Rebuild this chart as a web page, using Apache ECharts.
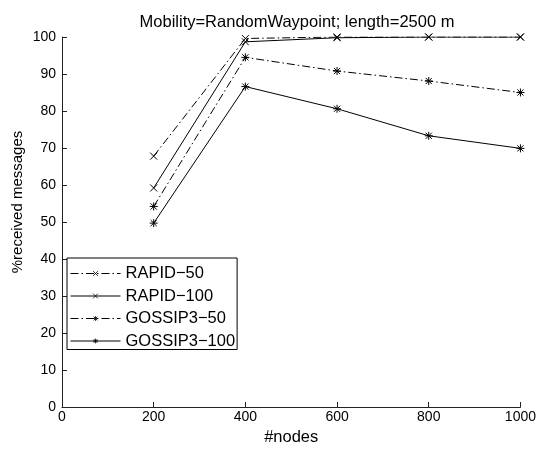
<!DOCTYPE html>
<html><head><meta charset="utf-8">
<script src="https://cdn.jsdelivr.net/npm/echarts@6/dist/echarts.min.js"></script>
<style>html,body{margin:0;padding:0;background:#fff}#c{width:539px;height:453px}</style>
</head><body><div id="c"></div>
<script>
const nodes = [200, 400, 600, 800, 1000];
const rapid50 = [67.8, 99.6, 100, 100, 100];
const rapid100 = [59.2, 98.7, 99.8, 100, 100];
const gossip50 = [54.2, 94.5, 90.8, 88.1, 85.0];
const gossip100 = [49.7, 86.6, 80.6, 73.3, 69.9];
const seriesNames = ['RAPID\u221250', 'RAPID\u2212100', 'GOSSIP3\u221250', 'GOSSIP3\u2212100'];
const xTicks = [0, 200, 400, 600, 800, 1000];
const yTicks = [0, 10, 20, 30, 40, 50, 60, 70, 80, 90, 100];

const X_SYM = 'path://M0,0L10,10M10,0L0,10';
const STAR_SYM = 'path://M0,0L10,10M10,0L0,10M5,-1.5L5,11.5M-1.5,5L11.5,5';
const FONT = 'Liberation Sans, Arial, sans-serif';
const dashDot = [8, 3, 1.5, 3];

function mk(name, vals, sym, dash) {
  return {
    name: name, type: 'line', data: nodes.map((n, i) => [n, vals[i]]),
    symbol: sym, symbolSize: sym === X_SYM ? 7 : 8, showAllSymbol: true,
    lineStyle: { color: '#000', width: 1, type: dash ? dashDot : 'solid' },
    itemStyle: { color: 'transparent', borderColor: '#000', borderWidth: 1 },
    emphasis: { disabled: true }, animation: false
  };
}

const chart = echarts.init(document.getElementById('c'), null, { renderer: 'canvas' });
chart.setOption({
  animation: false,
  title: { text: 'Mobility=RandomWaypoint; length=2500 m', left: 292, top: 9, textAlign: 'center',
    textStyle: { fontFamily: FONT, fontSize: 16.5, fontWeight: 'normal', color: '#000' } },
  grid: { left: 62, right: 17, top: 37, bottom: 46 },
  legend: {
    orient: 'vertical', left: 67, top: 258, itemGap: 5.5, itemWidth: 50, itemHeight: 6,
    data: seriesNames, borderColor: '#000', borderWidth: 1, backgroundColor: '#fff',
    padding: [7, 2, 0, 3], selectedMode: false,
    lineStyle: { width: 1 },
    itemStyle: { borderWidth: 0.8 },
    textStyle: { fontFamily: FONT, fontSize: 16.5, color: '#000', lineHeight: 16.5 }
  },
  xAxis: {
    type: 'value', min: xTicks[0], max: xTicks[xTicks.length - 1], interval: xTicks[1] - xTicks[0],
    name: '#nodes', nameLocation: 'middle', nameGap: 21,
    nameTextStyle: { fontFamily: FONT, fontSize: 16.5, color: '#000' },
    axisLine: { lineStyle: { color: '#222', width: 1 } },
    axisTick: { inside: true, length: 5, lineStyle: { color: '#222' } },
    axisLabel: { fontFamily: FONT, fontSize: 14, color: '#000', margin: 3, formatter: v => String(v) },
    splitLine: { show: false }
  },
  yAxis: {
    type: 'value', min: yTicks[0], max: yTicks[yTicks.length - 1], interval: yTicks[1] - yTicks[0],
    axisLine: { show: true, lineStyle: { color: '#222', width: 1 } },
    axisTick: { show: true, inside: true, length: 5, lineStyle: { color: '#222' } },
    axisLabel: { fontFamily: FONT, fontSize: 14, color: '#000', margin: 6, formatter: v => String(v) },
    splitLine: { show: false }
  },
  graphic: [{
    type: 'text', x: 18, y: 202, rotation: Math.PI / 2, silent: true,
    style: { text: '%received messages', fontFamily: FONT, fontSize: 15, fill: '#000',
      align: 'center', verticalAlign: 'middle' }
  }],
  series: [
    mk(seriesNames[0], rapid50, X_SYM, true),
    mk(seriesNames[1], rapid100, X_SYM, false),
    mk(seriesNames[2], gossip50, STAR_SYM, true),
    mk(seriesNames[3], gossip100, STAR_SYM, false)
  ]
});
</script></body></html>
